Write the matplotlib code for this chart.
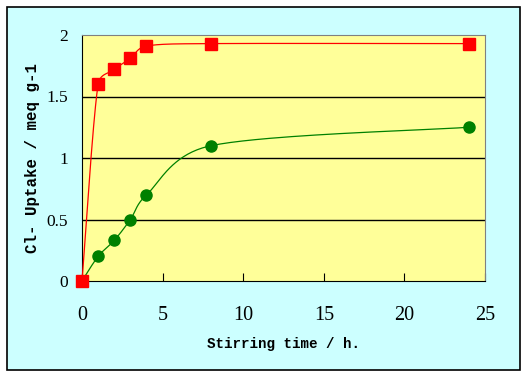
import numpy as np
import matplotlib
matplotlib.use("Agg")
import matplotlib.pyplot as plt
from matplotlib.patches import Rectangle

# data
time_h = [0, 1, 2, 3, 4, 8, 24]
red_uptake = [0, 1.6, 1.72, 1.81, 1.91, 1.93, 1.93]
green_uptake = [0, 0.2, 0.33, 0.5, 0.7, 1.1, 1.25]
x_ticks = [0, 5, 10, 15, 20, 25]
y_ticks = [0, 0.5, 1, 1.5, 2]
y_tick_labels = ["0", "0.5", "1", "1.5", "2"]


def clamp(d, lim):
    ln = np.linalg.norm(d)
    if ln > lim and ln > 0:
        return d * lim / ln
    return d


def smooth(xs, ys, sx, sy, n=40):
    # excel-like smoothed line: bezier through the points, done in pixel space,
    # each handle kept within half of its own segment
    p = np.column_stack([np.array(xs, float) * sx, np.array(ys, float) * sy])
    m = len(p)
    tang = [(p[min(i + 1, m - 1)] - p[max(i - 1, 0)]) / 6 for i in range(m)]
    out = []
    t = np.linspace(0, 1, n)[:, None]
    for i in range(m - 1):
        p1, p2 = p[i], p[i + 1]
        lim = np.linalg.norm(p2 - p1) / 2
        c1 = p1 + clamp(tang[i], lim)
        c2 = p2 - clamp(tang[i + 1], lim)
        seg = (1 - t) ** 3 * p1 + 3 * (1 - t) ** 2 * t * c1 + 3 * (1 - t) * t ** 2 * c2 + t ** 3 * p2
        out.append(seg)
    out = np.vstack(out)
    return out[:, 0] / sx, out[:, 1] / sy


fig = plt.figure(figsize=(5.28, 3.77), dpi=100)
fig.patch.set_facecolor("white")
fig.patches.append(Rectangle((7 / 528, 7 / 377), 513 / 528, 363 / 377, transform=fig.transFigure,
                             facecolor="#CCFFFF", edgecolor="black", linewidth=1.2, zorder=-10))

ax = fig.add_axes([82 / 528, 96 / 377, 403 / 528, 246 / 377])
ax.set_facecolor("#FFFF99")

sx, sy = 403 / 25, 246 / 2
rx, ry = smooth(time_h, red_uptake, sx, sy)
gx, gy = smooth(time_h, green_uptake, sx, sy)
ax.plot(gx, gy, color="green", linewidth=0.9, clip_on=False, zorder=3)
ax.plot(time_h, green_uptake, "o", color="green", markersize=8, clip_on=False, zorder=4)
ax.plot(rx, ry, color="red", linewidth=0.9, clip_on=False, zorder=5)
ax.plot(time_h, red_uptake, "s", color="red", markersize=8.4, clip_on=False, zorder=6)

ax.set_xlim(0, 25)
ax.set_ylim(0, 2)
ax.set_xticks(x_ticks)
ax.set_yticks(y_ticks)
ax.set_yticklabels(y_tick_labels)
for y in y_ticks[1:-1]:
    ax.axhline(y, color="black", linewidth=1, zorder=1)

ax.tick_params(axis="x", direction="in", length=6, pad=18, labelsize=14.5)
ax.tick_params(axis="y", length=0, pad=10, labelsize=12.5)
for lab in ax.get_xticklabels() + ax.get_yticklabels():
    lab.set_fontfamily("Liberation Serif")

ax.spines["top"].set_color("gray")
ax.spines["right"].set_color("gray")

ax.set_xlabel("Stirring time / h.", fontfamily="Liberation Mono", fontweight="bold", fontsize=10.2,
              va="center", ha="center")
ax.xaxis.set_label_coords(0.5, (281 - 344) / 246)
ax.set_ylabel("Cl- Uptake / meq g-1", fontfamily="Liberation Mono", fontweight="bold", fontsize=11.3,
              va="center", ha="center")
ax.yaxis.set_label_coords((33 - 82) / 403, 0.5)

fig.savefig("out.png", dpi=100)
